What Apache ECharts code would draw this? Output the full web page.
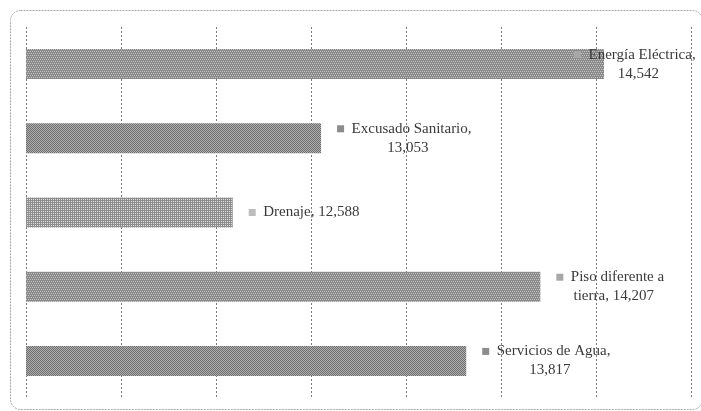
<!DOCTYPE html>
<html>
<head>
<meta charset="utf-8">
<script src="https://cdn.jsdelivr.net/npm/echarts@6/dist/echarts.min.js"></script>
<style>html,body{margin:0;padding:0;background:#fff;}#c{width:701px;height:411px;}</style>
</head>
<body>
<div id="c"></div>
<script>
// Data (top to bottom)
const categories = ['Energía Eléctrica', 'Excusado Sanitario', 'Drenaje', 'Piso diferente a tierra', 'Servicios de Agua'];
const values = [14542, 13053, 12588, 14207, 13817];
const labelLines = [
  ['Energía Eléctrica,', '14,542'],
  ['Excusado Sanitario,', '13,053'],
  ['Drenaje, 12,588'],
  ['Piso diferente a', 'tierra, 14,207'],
  ['Servicios de Agua,', '13,817']
];
const xMin = 11500, xMax = 15000, xInterval = 500;

function pattern(kind) {
  const c = document.createElement('canvas');
  c.width = 4; c.height = 4;
  const g = c.getContext('2d');
  if (kind === 'stripe') {
    g.fillStyle = '#c4c4c4'; g.fillRect(0,0,4,4);
    g.fillStyle = '#8a8a8a';
    g.fillRect(0,0,4,1); g.fillRect(0,2,4,1);
    g.fillRect(0,1,1,1); g.fillRect(2,1,1,1); g.fillRect(1,3,1,1); g.fillRect(3,3,1,1);
  } else if (kind === 'checker') {
    g.fillStyle = '#b0b0b0'; g.fillRect(0,0,4,4);
    g.fillStyle = '#6e6e6e';
    for (let y=0;y<4;y++) for (let x=0;x<4;x++) if ((x+y)%2===0) g.fillRect(x,y,1,1);
  } else {
    g.fillStyle = '#e0e0e0'; g.fillRect(0,0,4,4);
    g.fillStyle = '#8c8c8c';
    g.fillRect(0,0,4,1); g.fillRect(0,2,4,1);
    g.fillRect(0,0,1,4); g.fillRect(2,0,1,4);
  }
  return { image: c, repeat: 'repeat' };
}
const fills = [pattern('stripe'), pattern('checker'), pattern('grid'), pattern('stripe'), pattern('checker')];
const keyColors = ['#a8a8a8', '#8c8c8c', '#bdbdbd', '#a8a8a8', '#8c8c8c'];

const data = values.map((v, i) => {
  const item = { value: v, itemStyle: { color: fills[i] } };
  if (i === 0) item.label = { offset: [-46, 0] };
  return item;
});

const chart = echarts.init(document.getElementById('c'), null, { renderer: 'canvas' });
chart.setOption({
  animation: false,
  backgroundColor: '#fff',
  graphic: [{
    type: 'rect', left: 8, top: 8,
    shape: { width: 692, height: 399, r: 10 },
    style: { fill: 'none', stroke: '#a8a8a8', lineWidth: 1, lineDash: [2, 1] },
    silent: true, z: -1
  }],
  grid: { left: 26, right: 10, top: 27, bottom: 13, containLabel: false },
  xAxis: {
    type: 'value', min: xMin, max: xMax, interval: xInterval,
    axisLabel: { show: false }, axisTick: { show: false }, axisLine: { show: false },
    splitLine: { show: true, lineStyle: { color: '#7a7a7a', type: [2, 2], width: 1 } }
  },
  yAxis: {
    type: 'category', data: categories, inverse: true,
    axisLabel: { show: false }, axisTick: { show: false }, axisLine: { show: false }
  },
  series: [{
    type: 'bar', data: data, barWidth: 30,
    label: {
      show: true, position: 'right', distance: 16,
      fontFamily: 'Liberation Serif', fontSize: 15, color: '#3a3a3a', lineHeight: 19,
      formatter: function (p) {
        const lines = labelLines[p.dataIndex];
        let s = '{k' + p.dataIndex + '|}{t|  ' + lines[0] + '}';
        if (lines[1]) s += '\n{e|}{t|' + lines[1] + '}';
        return s;
      },
      rich: Object.assign({
        t: { fontFamily: 'Liberation Serif', fontSize: 15, color: '#3a3a3a', align: 'center', lineHeight: 19 },
        e: { width: 7, height: 7, align: 'left' }
      }, Object.fromEntries(keyColors.map((c, i) => ['k' + i, { width: 7, height: 7, backgroundColor: c, align: 'left' }])))
    }
  }]
});
</script>
</body>
</html>
